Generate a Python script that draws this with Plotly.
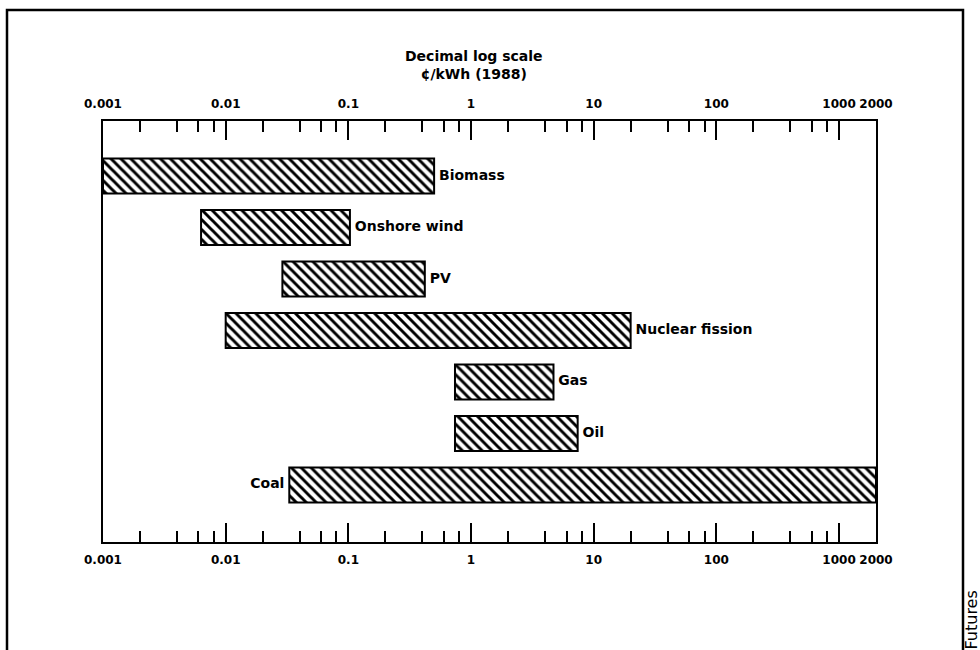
import numpy as np
import plotly.graph_objects as go

# ---- data ----
sources = ["Biomass", "Onshore wind", "PV", "Nuclear fission", "Gas", "Oil", "Coal"]
low_cost = [0.001, 0.0063, 0.029, 0.01, 0.74, 0.74, 0.033]     # ¢/kWh (1988)
high_cost = [0.5, 0.103, 0.42, 20, 4.7, 7.4, 2000]
label_side = ["middle right"] * 6 + ["middle left"]

major_vals = [0.001, 0.01, 0.1, 1, 10, 100, 1000, 2000]
major_text = ["0.001", "0.01", "0.1", "1", "10", "100", "1000", "2000"]
minor_vals = [m * 10.0 ** e for e in range(-3, 3) for m in (2, 4, 6, 8)]

W, H = 980, 650
L, R, T, B = 103, 104, 121, 108
pw, ph = W - L - R, H - T - B


def px_x(p):
    return (p - L) / pw


def px_y(p):
    return (H - B - p) / ph


FONT = "DejaVu Sans"

fig = go.Figure()
fig.add_trace(go.Bar(
    y=sources,
    x=[h - l for l, h in zip(low_cost, high_cost)],
    base=low_cost,
    orientation="h",
    width=0.68,
    marker=dict(
        color="white",
        line=dict(color="black", width=2),
        pattern=dict(shape="\\", size=7, solidity=0.42, fgcolor="black",
                     bgcolor="white", fgopacity=1),
    ),
    showlegend=False,
    hoverinfo="skip",
))

label_x = [h if s == "middle right" else l for l, h, s in zip(low_cost, high_cost, label_side)]
label_text = [(" " + n) if s == "middle right" else (n + " ") for n, s in zip(sources, label_side)]
fig.add_trace(go.Scatter(
    y=sources, x=label_x, mode="text", text=label_text, textposition=label_side,
    textfont=dict(family=FONT, size=14, color="black", weight="bold"),
    showlegend=False, hoverinfo="skip", cliponaxis=False,
))
# invisible trace to activate the top axis
fig.add_trace(go.Scatter(x=[0.001, 2000], y=[sources[0], sources[0]], xaxis="x2",
                         mode="markers", marker=dict(opacity=0), showlegend=False,
                         hoverinfo="skip"))

xr = [np.log10(0.001), np.log10(2000)]
axis_common = dict(
    type="log", range=xr, tickvals=major_vals, ticktext=major_text,
    ticks="inside", ticklen=19, tickwidth=2, tickcolor="black",
    showline=True, linecolor="black", linewidth=2, showgrid=False, zeroline=False,
    tickfont=dict(family=FONT, size=12, color="black", weight="bold"),
    minor=dict(tickvals=minor_vals, ticks="inside", ticklen=11, tickwidth=2,
               tickcolor="black", showgrid=False),
    fixedrange=True,
)

fig.update_layout(
    width=W, height=H,
    margin=dict(l=L, r=R, t=T, b=B, pad=0),
    paper_bgcolor="white", plot_bgcolor="white",
    xaxis=dict(side="bottom", ticklabelstandoff=6, **axis_common),
    xaxis2=dict(side="top", overlaying="x", ticklabelstandoff=6, **axis_common),
    yaxis=dict(type="category", categoryorder="array", categoryarray=sources,
               range=[7.107, -1.068], showticklabels=False, ticks="",
               showline=True, mirror=True, linecolor="black", linewidth=2,
               showgrid=False, zeroline=False, fixedrange=True),
    bargap=0.3,
    annotations=[
        dict(text="Decimal log scale<br>¢/kWh (1988)", xref="paper", yref="paper",
             x=px_x(474), y=px_y(65), xanchor="center", yanchor="middle",
             showarrow=False, align="center",
             font=dict(family=FONT, size=14, color="black", weight="bold")),
        dict(text="Futures", xref="paper", yref="paper", x=px_x(971), y=px_y(652),
             xanchor="center", yanchor="bottom", textangle=-90, showarrow=False,
             font=dict(family=FONT, size=16, color="black")),
    ],
    shapes=[
        dict(type="path", xref="paper", yref="paper",
             path=f"M {px_x(7)},{px_y(660)} L {px_x(7)},{px_y(10)} L {px_x(963)},{px_y(10)} L {px_x(963)},{px_y(660)}",
             line=dict(color="black", width=2.5)),
    ],
)

fig.write_html("out.html", config={"displayModeBar": False},
               post_script="document.body.style.margin='0';document.body.style.overflow='hidden';")
